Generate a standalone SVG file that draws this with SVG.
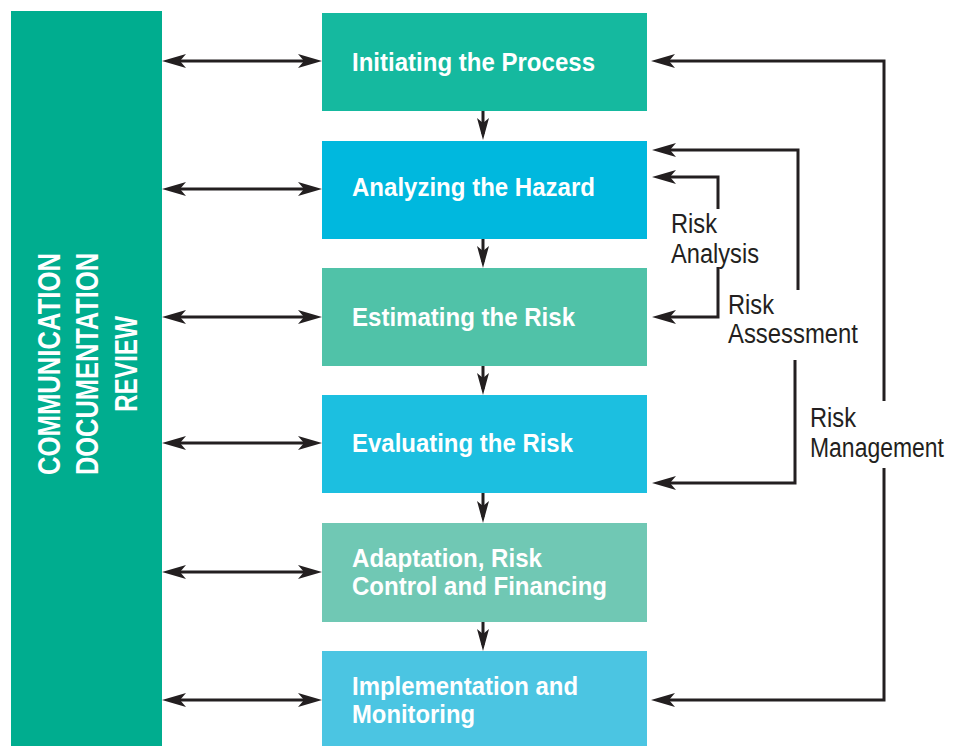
<svg xmlns="http://www.w3.org/2000/svg" width="953" height="746" viewBox="0 0 953 746">
<style>
.bt{font-family:"Liberation Sans",Arial,sans-serif;font-weight:bold;font-size:25px;fill:#fff}
.lt{font-family:"Liberation Sans",Arial,sans-serif;font-size:27px;fill:#231f20}
.vt{font-family:"Liberation Sans",Arial,sans-serif;font-weight:bold;font-size:31px;fill:#fff}
.c{fill:none;stroke:#231f20;stroke-width:3}
</style>
<defs>
<marker id="ah" markerUnits="userSpaceOnUse" viewBox="0 0 24 14" refX="16" refY="7" markerWidth="24" markerHeight="14" orient="auto-start-reverse">
<path d="M0,0 L24,7 L0,14 L6,7 z" fill="#231f20"/>
</marker>
<marker id="dh" markerUnits="userSpaceOnUse" viewBox="0 0 22 12" refX="16" refY="6" markerWidth="22" markerHeight="12" orient="auto">
<path d="M0,0 L22,6 L0,12 L5,6 z" fill="#231f20"/>
</marker>
</defs>
<rect width="953" height="746" fill="#fff"/>
<g id="side">
<rect x="11" y="11" width="151" height="735" fill="#00ad8f"/>
<g transform="translate(0,364) rotate(-90)">
<text class="vt" x="0" y="60" text-anchor="middle" textLength="222" lengthAdjust="spacingAndGlyphs">COMMUNICATION</text>
<text class="vt" x="0" y="98" text-anchor="middle" textLength="222" lengthAdjust="spacingAndGlyphs">DOCUMENTATION</text>
<text class="vt" x="0" y="137" text-anchor="middle" textLength="96" lengthAdjust="spacingAndGlyphs">REVIEW</text>
</g>
</g>
<g id="n1"><rect x="322" y="13" width="325" height="98" fill="#15b99f"/><text class="bt" x="352" y="71" textLength="243" lengthAdjust="spacingAndGlyphs">Initiating the Process</text></g>
<g id="n2"><rect x="322" y="141" width="325" height="98" fill="#00b8de"/><text class="bt" x="352" y="196" textLength="243" lengthAdjust="spacingAndGlyphs">Analyzing the Hazard</text></g>
<g id="n3"><rect x="322" y="268" width="325" height="98" fill="#50c2a8"/><text class="bt" x="352" y="326" textLength="223" lengthAdjust="spacingAndGlyphs">Estimating the Risk</text></g>
<g id="n4"><rect x="322" y="395" width="325" height="98" fill="#1cbfe0"/><text class="bt" x="352" y="452" textLength="221" lengthAdjust="spacingAndGlyphs">Evaluating the Risk</text></g>
<g id="n5"><rect x="322" y="523" width="325" height="99" fill="#70c8b4"/><text class="bt" x="352" y="567" textLength="190" lengthAdjust="spacingAndGlyphs">Adaptation, Risk</text><text class="bt" x="352" y="595" textLength="255" lengthAdjust="spacingAndGlyphs">Control and Financing</text></g>
<g id="n6"><rect x="322" y="651" width="325" height="95" fill="#4bc5e2"/><text class="bt" x="352" y="695" textLength="226" lengthAdjust="spacingAndGlyphs">Implementation and</text><text class="bt" x="352" y="723" textLength="123" lengthAdjust="spacingAndGlyphs">Monitoring</text></g>
<g id="labels">
<text class="lt" x="671" y="233" textLength="46" lengthAdjust="spacingAndGlyphs">Risk</text>
<text class="lt" x="671" y="263" textLength="88" lengthAdjust="spacingAndGlyphs">Analysis</text>
<text class="lt" x="728" y="314" textLength="46" lengthAdjust="spacingAndGlyphs">Risk</text>
<text class="lt" x="728" y="343" textLength="130" lengthAdjust="spacingAndGlyphs">Assessment</text>
<text class="lt" x="810" y="427" textLength="46" lengthAdjust="spacingAndGlyphs">Risk</text>
<text class="lt" transform="translate(810,457) scale(0.85,1)">Management</text>
</g>
<g id="connectors">
<line class="c" x1="170" y1="61" x2="314" y2="61" marker-start="url(#ah)" marker-end="url(#ah)"/>
<line class="c" x1="170" y1="189" x2="314" y2="189" marker-start="url(#ah)" marker-end="url(#ah)"/>
<line class="c" x1="170" y1="317" x2="314" y2="317" marker-start="url(#ah)" marker-end="url(#ah)"/>
<line class="c" x1="170" y1="443" x2="314" y2="443" marker-start="url(#ah)" marker-end="url(#ah)"/>
<line class="c" x1="170" y1="572" x2="314" y2="572" marker-start="url(#ah)" marker-end="url(#ah)"/>
<line class="c" x1="170" y1="700" x2="314" y2="700" marker-start="url(#ah)" marker-end="url(#ah)"/>
<line class="c" x1="483" y1="111" x2="483" y2="134" marker-end="url(#dh)"/>
<line class="c" x1="483" y1="239" x2="483" y2="262" marker-end="url(#dh)"/>
<line class="c" x1="483" y1="366" x2="483" y2="389" marker-end="url(#dh)"/>
<line class="c" x1="483" y1="493" x2="483" y2="517" marker-end="url(#dh)"/>
<line class="c" x1="483" y1="622" x2="483" y2="645" marker-end="url(#dh)"/>
<path class="c" d="M718,209 V177 H660" marker-end="url(#ah)"/>
<path class="c" d="M718,267 V317 H660" marker-end="url(#ah)"/>
<path class="c" d="M798,290 V150 H660" marker-end="url(#ah)"/>
<path class="c" d="M795,360 V483 H660" marker-end="url(#ah)"/>
<path class="c" d="M884,401 V61 H659" marker-end="url(#ah)"/>
<path class="c" d="M884,468 V700 H659" marker-end="url(#ah)"/>
</g>
</svg>
